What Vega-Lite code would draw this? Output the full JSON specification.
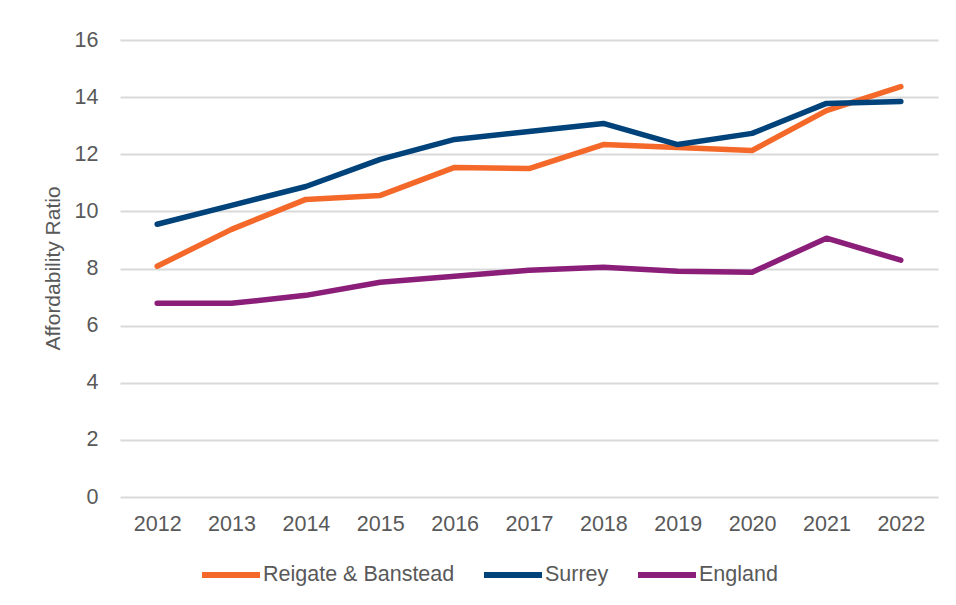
{
  "$schema": "https://vega.github.io/schema/vega-lite/v6.json",
  "autosize": "none",
  "width": 818,
  "height": 457,
  "padding": {"left": 120, "top": 40, "right": 18, "bottom": 108},
  "background": "white",
  "data": {"values": [
    {"year": "2012", "area": "Reigate & Banstead", "ratio": 8.08},
    {"year": "2013", "area": "Reigate & Banstead", "ratio": 9.37},
    {"year": "2014", "area": "Reigate & Banstead", "ratio": 10.42},
    {"year": "2015", "area": "Reigate & Banstead", "ratio": 10.56},
    {"year": "2016", "area": "Reigate & Banstead", "ratio": 11.54},
    {"year": "2017", "area": "Reigate & Banstead", "ratio": 11.5},
    {"year": "2018", "area": "Reigate & Banstead", "ratio": 12.34},
    {"year": "2019", "area": "Reigate & Banstead", "ratio": 12.24},
    {"year": "2020", "area": "Reigate & Banstead", "ratio": 12.13},
    {"year": "2021", "area": "Reigate & Banstead", "ratio": 13.53},
    {"year": "2022", "area": "Reigate & Banstead", "ratio": 14.37},
    {"year": "2012", "area": "Surrey", "ratio": 9.55},
    {"year": "2013", "area": "Surrey", "ratio": 10.21},
    {"year": "2014", "area": "Surrey", "ratio": 10.87},
    {"year": "2015", "area": "Surrey", "ratio": 11.82},
    {"year": "2016", "area": "Surrey", "ratio": 12.52},
    {"year": "2017", "area": "Surrey", "ratio": 12.8},
    {"year": "2018", "area": "Surrey", "ratio": 13.08},
    {"year": "2019", "area": "Surrey", "ratio": 12.34},
    {"year": "2020", "area": "Surrey", "ratio": 12.73},
    {"year": "2021", "area": "Surrey", "ratio": 13.78},
    {"year": "2022", "area": "Surrey", "ratio": 13.85},
    {"year": "2012", "area": "England", "ratio": 6.78},
    {"year": "2013", "area": "England", "ratio": 6.78},
    {"year": "2014", "area": "England", "ratio": 7.06},
    {"year": "2015", "area": "England", "ratio": 7.52},
    {"year": "2016", "area": "England", "ratio": 7.73},
    {"year": "2017", "area": "England", "ratio": 7.94},
    {"year": "2018", "area": "England", "ratio": 8.04},
    {"year": "2019", "area": "England", "ratio": 7.9},
    {"year": "2020", "area": "England", "ratio": 7.87},
    {"year": "2021", "area": "England", "ratio": 9.06},
    {"year": "2022", "area": "England", "ratio": 8.29}
  ]},
  "mark": {"type": "line", "strokeWidth": 5.5, "strokeCap": "round", "strokeJoin": "round"},
  "encoding": {
    "x": {
      "field": "year", "type": "ordinal",
      "scale": {"type": "point", "padding": 0.5},
      "axis": {"title": null, "labelAngle": 0, "ticks": false, "domain": false, "grid": false, "labelPadding": 16}
    },
    "y": {
      "field": "ratio", "type": "quantitative",
      "scale": {"domain": [0, 16], "nice": false},
      "axis": {
        "title": "Affordability Ratio", "values": [0, 2, 4, 6, 8, 10, 12, 14, 16],
        "ticks": false, "domain": false, "labelPadding": 22,
        "titleX": -67, "titleY": 228, "titleBaseline": "middle", "titleAngle": -90, "titleAlign": "center"
      }
    },
    "color": {
      "field": "area", "type": "nominal",
      "scale": {"domain": ["Reigate & Banstead", "Surrey", "England"], "range": ["#F4692A", "#00427A", "#8A1E78"]},
      "legend": {
        "title": null, "orient": "none", "direction": "horizontal", "legendX": 79, "legendY": 503,
        "symbolType": "stroke", "symbolSize": 3364, "symbolStrokeWidth": 6, "labelOffset": 0, "columnPadding": 17, "padding": 0
      }
    }
  },
  "config": {
    "view": {"stroke": null},
    "font": "Liberation Sans",
    "axis": {"labelFont": "Liberation Sans", "labelFontSize": 21.5, "labelColor": "#595959", "titleFont": "Liberation Sans", "titleFontSize": 21, "titleFontWeight": "normal", "titleColor": "#595959", "gridColor": "#D9D9D9", "gridWidth": 2},
    "legend": {"labelFont": "Liberation Sans", "labelFontSize": 21.5, "labelColor": "#595959", "labelLimit": 400}
  }
}
